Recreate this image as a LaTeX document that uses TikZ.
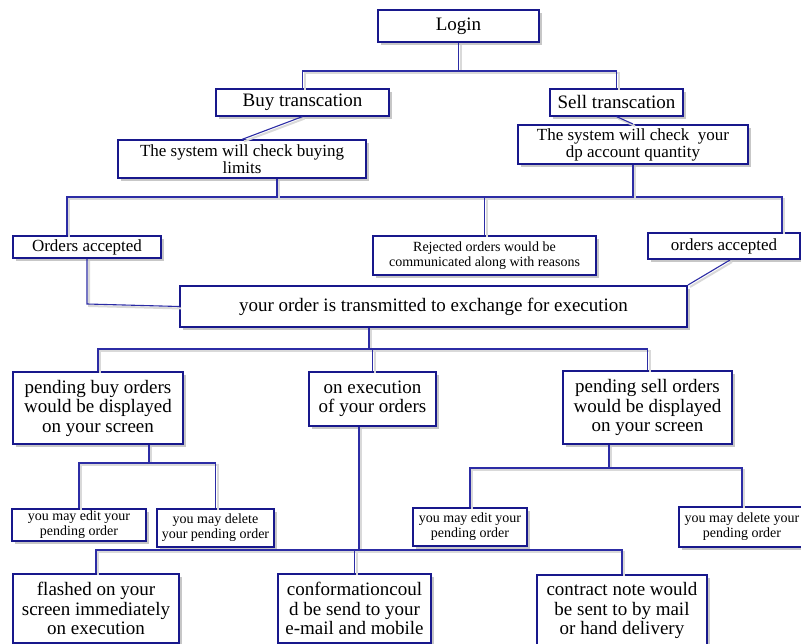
\documentclass[tikz,border=0pt]{standalone}
\usepackage{fontspec}
\setmainfont{Liberation Serif}
\usetikzlibrary{shadows}
\usetikzlibrary{calc}
\definecolor{boxblue}{RGB}{24,24,140}
\definecolor{wireblue}{RGB}{44,44,165}

\begin{document}
\begin{tikzpicture}[x=1pt,y=-1pt,
                every node/.style={align=center, inner sep=2pt},
                box/.style={draw=boxblue, line width=1.2pt, fill=white,
                    drop shadow={shadow xshift=3pt, shadow yshift=-3pt, fill=black!22, opacity=1}},
                heavy/.style={box, line width=2pt},
                sz/.style 2 args={minimum width=#1pt, minimum height=#2pt},
                big/.style={font=\fontsize{19}{19.5}\selectfont},
                med/.style={font=\fontsize{17}{17}\selectfont},
                small/.style={font=\fontsize{14}{15}\selectfont},
                wire/.style={draw=wireblue, line width=1.1pt,
                    preaction={draw=black!15, line width=2pt, transform canvas={shift={(2,2)}}}}
            ]
            \path[use as bounding box, clip] (0,0) rectangle (801,644);
            % boxes
            \node[heavy, big, sz={161}{32}] (login) at (458.5,26) {Login};
            \node[box, big, sz={173}{27}] (buy) at (302.5,102.5) {Buy transcation};
            \node[box, big, sz={133}{27}] (sell) at (616.5,102.5) {Sell transcation};
            \node[box, med, sz={248}{38}] (chkbuy) at (242,159) {The system will check buying\\limits};
            \node[heavy, med, sz={230}{39}] (chkdp) at (633,144.5) {The system will check\ \ your\\dp account quantity};
            \node[heavy, med, sz={148}{22}] (accL) at (87,247) {Orders accepted};
            \node[box, small, sz={223}{39}] (reject) at (484.5,255.5) {Rejected orders would be\\communicated along with reasons};
            \node[heavy, med, sz={152}{26}] (accR) at (724,246) {orders accepted};
            \node[heavy, big, sz={507}{41}] (send) at (433.5,306.5) {your order is transmitted to exchange for execution};
            \node[box, big, sz={170}{72}] (pbuy) at (98,408) {pending buy orders\\would be displayed\\on your screen};
            \node[box, big, sz={127}{54}] (onexec) at (372.5,399) {on execution\\of your orders};
            \node[heavy, big, sz={169}{73}] (psell) at (647.5,407.5) {pending sell orders\\would be displayed\\on your screen};
            \node[heavy, small, sz={134}{32}] (editB) at (79,525) {you may edit your\\pending order};
            \node[box, small, sz={117}{38}] (delB) at (215.5,528) {you may delete\\your pending order};
            \node[box, small, sz={114}{38}] (editS) at (470,527) {you may edit your\\pending order};
            \node[heavy, small, sz={126}{40}] (delS) at (742,527) {you may delete your\\pending order};
            \node[heavy, big, sz={166}{69}] (flash) at (96,608.5) {flashed on your\\screen immediately\\on execution};
            \node[box, big, sz={153}{69}] (mail) at (354.5,608.5) {conformationcoul\\d be send to your\\e-mail and mobile};
            \node[box, big, sz={170}{71}] (note) at (622,610.5) {contract note would\\be sent to by mail\\or hand delivery};
            % bus lines and taps
            \coordinate (bus1) at (0,71);
            \coordinate (busL) at (67,197);
            \coordinate (busR) at (782,197);
            \coordinate (tapB) at (277,197);
            \coordinate (tapS) at (369,349);
            \coordinate (tapPB) at (149,463);
            \coordinate (tapPS) at (609,468);
            \coordinate (tapEx) at (359,550);
            % connectors
            \draw[wire] (login.south) -- (login.south |- bus1);
            \draw[wire] (buy.north) |- (sell.north |- bus1) -- (sell.north);
            \draw[wire] (buy.south) -- (chkbuy.north);
            \draw[wire] (sell.south) -- (chkdp.north);
            \draw[wire] (accL.north -| busL) |- (busR) -- (accR.north -| busR);
            \draw[wire] (chkbuy.south -| tapB) -- (tapB);
            \foreach \n in {chkdp.south, reject.north}
                \draw[wire] (\n) -- (\n |- busL);
            \draw[wire] (accL.south) -- ++(0,45) -- (send.west);
            \draw[wire] ($(accR.south)+(6,0)$) -- (send.north east);
            \draw[wire] (send.south -| tapS) -- (tapS);
            \draw[wire] (pbuy.north) |- (psell.north |- tapS) -- (psell.north);
            \draw[wire] (onexec.north) -- (onexec.north |- tapS);
            \draw[wire] (pbuy.south -| tapPB) -- (tapPB);
            \draw[wire] (editB.north) |- (delB.north |- tapPB) -- (delB.north);
            \draw[wire] (psell.south -| tapPS) -- (tapPS);
            \draw[wire] (editS.north) |- (delS.north |- tapPS) -- (delS.north);
            \draw[wire] (onexec.south -| tapEx) -- (tapEx);
            \draw[wire] (flash.north) |- (note.north |- tapEx) -- (note.north);
            \draw[wire] (mail.north) -- (mail.north |- tapEx);
        \end{tikzpicture}
\end{document}
